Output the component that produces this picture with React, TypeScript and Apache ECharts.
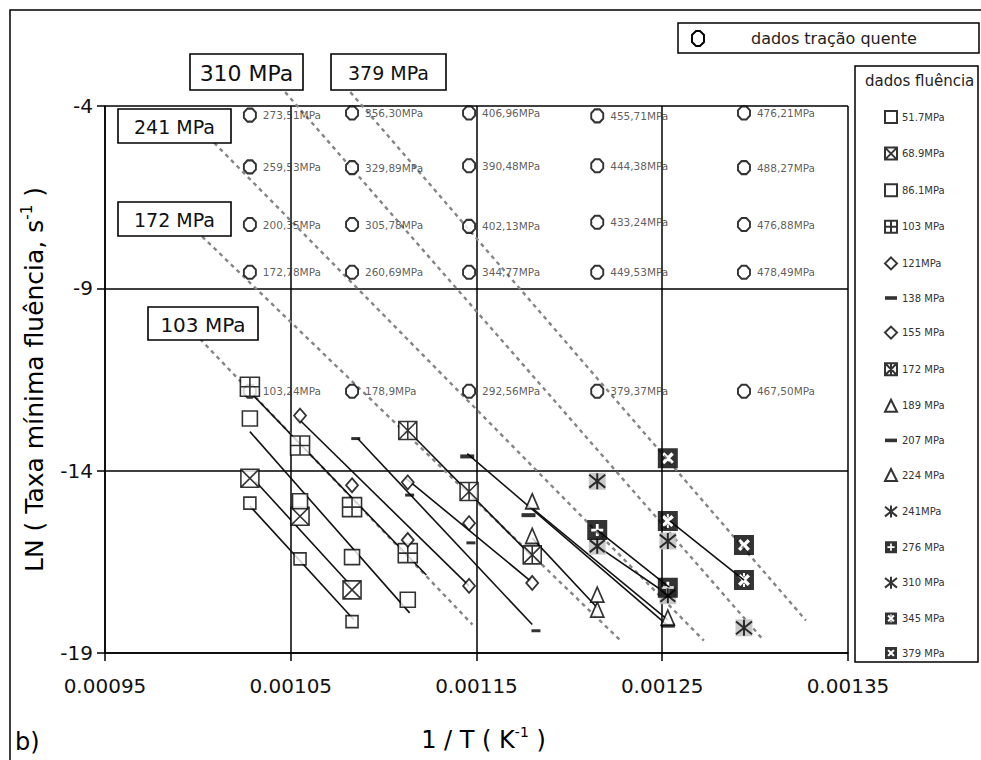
import React, { useEffect, useRef } from "react";
import * as echarts from "echarts";

// ---------- axes ----------
const X_MIN = 0.00095;
const X_MAX = 0.00135;
const X_STEP = 0.0001;
const Y_MIN = -19;
const Y_MAX = -4;
const Y_STEP = 5;
const xTickLabels = ["0.00095", "0.00105", "0.00115", "0.00125", "0.00135"];
const yTickLabels = ["-19", "-14", "-9", "-4"];

// ---------- hot tensile data (dados tração quente) ----------
const tensileRow1 = [[0.001028, -4.25], [0.001083, -4.19], [0.001146, -4.19], [0.001215, -4.27], [0.001294, -4.19]];
const tensileLabels1 = ["273,51MPa", "356,30MPa", "406,96MPa", "455,71MPa", "476,21MPa"];
const tensileRow2 = [[0.001028, -5.67], [0.001083, -5.69], [0.001146, -5.64], [0.001215, -5.64], [0.001294, -5.69]];
const tensileLabels2 = ["259,53MPa", "329,89MPa", "390,48MPa", "444,38MPa", "488,27MPa"];
const tensileRow3 = [[0.001028, -7.25], [0.001083, -7.25], [0.001146, -7.30], [0.001215, -7.19], [0.001294, -7.25]];
const tensileLabels3 = ["200,35MPa", "305,78MPa", "402,13MPa", "433,24MPa", "476,88MPa"];
const tensileRow4 = [[0.001028, -8.56], [0.001083, -8.56], [0.001146, -8.56], [0.001215, -8.56], [0.001294, -8.56]];
const tensileLabels4 = ["172,78MPa", "260,69MPa", "344,77MPa", "449,53MPa", "478,49MPa"];
const tensileRow5 = [[0.001028, -11.82], [0.001083, -11.82], [0.001146, -11.82], [0.001215, -11.82], [0.001294, -11.82]];
const tensileLabels5 = ["103,24MPa", "178,9MPa", "292,56MPa", "379,37MPa", "467,50MPa"];

// ---------- creep data (dados fluência) ----------
const creepNames = ["51.7MPa", "68.9MPa", "86.1MPa", "103 MPa", "121MPa", "138 MPa", "155 MPa", "172 MPa",
  "189 MPa", "207 MPa", "224 MPa", "241MPa", "276 MPa", "310 MPa", "345 MPa", "379 MPa"];
const s517 = [[0.001028, -14.89], [0.001055, -16.42], [0.001083, -18.14]];
const s689 = [[0.001028, -14.21], [0.001055, -15.25], [0.001083, -17.27]];
const s861 = [[0.001028, -12.57], [0.001055, -14.84], [0.001083, -16.37], [0.001113, -17.54]];
const s103 = [[0.001028, -11.70], [0.001055, -13.31], [0.001083, -15.00], [0.001113, -16.26]];
const s121 = [[0.001055, -12.49], [0.001083, -14.40], [0.001113, -15.90], [0.001146, -17.16]];
const s138 = [[0.001085, -13.12], [0.001114, -14.67], [0.001147, -15.98], [0.001182, -18.39]];
const s155 = [[0.001113, -14.32], [0.001146, -15.44], [0.001180, -17.08]];
const s172 = [[0.001113, -12.90], [0.001146, -14.57], [0.001180, -16.31]];
const s189 = [[0.001180, -15.79], [0.001215, -17.81]];
const s207 = [[0.001145, -13.61], [0.001178, -15.22], [0.001253, -18.25]];
const s224 = [[0.001180, -14.84], [0.001215, -17.40], [0.001253, -18.03]];
const s241 = [[0.001215, -16.07], [0.001253, -17.43]];
const s276 = [[0.001215, -15.63], [0.001253, -17.21]];
const s310 = [[0.001215, -14.29], [0.001253, -15.93], [0.001294, -18.31]];
const s345 = [[0.001253, -15.38], [0.001294, -17.00]];
const s379 = [[0.001253, -13.66], [0.001294, -16.04]];

// linear trend lines drawn through the creep points
const t517 = [[0.001028, -14.97], [0.001084, -18.09]];
const t689 = [[0.001031, -14.29], [0.001082, -17.13]];
const t861 = [[0.001028, -12.93], [0.001114, -17.90]];
const t103 = [[0.001028, -11.84], [0.001123, -16.86]];
const t121 = [[0.001054, -12.57], [0.001146, -17.16]];
const t138 = [[0.001086, -13.12], [0.001180, -18.22]];
const t155 = [[0.001112, -14.21], [0.001179, -17.02]];
const t172 = [[0.001113, -12.90], [0.001179, -16.31]];
const t189 = [[0.001180, -15.85], [0.001215, -17.76]];
const t207 = [[0.001145, -13.53], [0.001253, -18.25]];
const t224 = [[0.001180, -15.03], [0.001253, -18.09]];
const t241 = [[0.001215, -16.07], [0.001254, -17.43]];
const t276 = [[0.001215, -15.63], [0.001254, -17.21]];
const t345 = [[0.001254, -15.38], [0.001294, -17.00]];

// iso-stress lines (dashed) from the hot tensile data
const isoNames = ["310 MPa", "379 MPa", "241 MPa", "172 MPa", "103 MPa"];
const iso310 = [[0.0010470, -3.62], [0.0013047, -18.66]];
const iso379 = [[0.0010821, -3.62], [0.0013274, -18.11]];
const iso241 = [[0.0010088, -5.01], [0.0012724, -18.66]];
const iso172 = [[0.0010023, -7.58], [0.0012276, -18.66]];
const iso103 = [[0.0010012, -10.39], [0.0011478, -18.22]];

// ---------- styles ----------
const FONT = "DejaVu Sans, Liberation Sans, Arial, sans-serif";
const P_SQ = "path://M0,0H10V10H0Z";
const P_SQX = "path://M0,0H10V10H0Z M0,0L10,10 M10,0L0,10";
const P_SQPLUS = "path://M0,0H10V10H0Z M5,0V10 M0,5H10";
const P_SQXV = "path://M0,0H10V10H0Z M0,0L10,10 M10,0L0,10 M5,0V10";
const P_OCT = "path://M3,0H7L10,3V7L7,10H3L0,7V3Z";
const P_DASH = "path://M0,0H10V3H0Z";
const P_AST = "path://M0,1L10,9 M10,1L0,9 M5,0V10";
const P_BPLUS = "path://M0,0H10V10H0Z M4.3,2V4.3H2V5.7H4.3V8H5.7V5.7H8V4.3H5.7V2Z";
const P_BX = "path://M0,0H10V10H0Z M3.2,2L2,3.2L3.8,5L2,6.8L3.2,8L5,6.2L6.8,8L8,6.8L6.2,5L8,3.2L6.8,2L5,3.8Z";
const P_BAST = P_BX + " M4.5,1.5V3.2H5.5V1.5Z M4.5,6.8V8.5H5.5V6.8Z";

type Sty = { symbol: string; size: number | number[]; fill: string; bw: number; bg?: boolean };
const creepStyles: Sty[] = [
  { symbol: P_SQ, size: 12, fill: "#fff", bw: 1.6 },
  { symbol: P_SQX, size: 18, fill: "#fff", bw: 1.6 },
  { symbol: P_SQ, size: 15, fill: "#fff", bw: 1.6 },
  { symbol: P_SQPLUS, size: 19, fill: "#fff", bw: 1.6 },
  { symbol: "diamond", size: [12, 14], fill: "#fff", bw: 1.8 },
  { symbol: P_DASH, size: [9, 3], fill: "#000", bw: 0 },
  { symbol: "diamond", size: [12, 14], fill: "#fff", bw: 1.8 },
  { symbol: P_SQXV, size: 18, fill: "#fff", bw: 1.6 },
  { symbol: "triangle", size: [13, 15], fill: "#fff", bw: 1.8 },
  { symbol: P_DASH, size: [14, 4], fill: "#000", bw: 0 },
  { symbol: "triangle", size: [13, 15], fill: "#fff", bw: 1.8 },
  { symbol: P_AST, size: 15, fill: "#000", bw: 2, bg: true },
  { symbol: P_BPLUS, size: 20, fill: "#000", bw: 0 },
  { symbol: P_AST, size: 16, fill: "#000", bw: 2, bg: true },
  { symbol: P_BAST, size: 20, fill: "#000", bw: 0 },
  { symbol: P_BX, size: 20, fill: "#000", bw: 0 },
];
const creepData = [s517, s689, s861, s103, s121, s138, s155, s172, s189, s207, s224, s241, s276, s310, s345, s379];
const trendData = [t517, t689, t861, t103, t121, t138, t155, t172, t189, t207, t224, t241, t276, t345];
const isoData = [iso310, iso379, iso241, iso172, iso103];
const tensileRows = [tensileRow1, tensileRow2, tensileRow3, tensileRow4, tensileRow5];
const tensileLabelRows = [tensileLabels1, tensileLabels2, tensileLabels3, tensileLabels4, tensileLabels5];

const boxLayout = [
  { x: 190, y: 54, w: 113, h: 36, fs: 22 },
  { x: 331, y: 54, w: 115, h: 36, fs: 19 },
  { x: 118, y: 109, w: 113, h: 34, fs: 19 },
  { x: 118, y: 202, w: 113, h: 34, fs: 19 },
  { x: 148, y: 307, w: 110, h: 33, fs: 20 },
];

function buildOption() {
  const series: any[] = [];

  isoData.forEach((d, i) => {
    series.push({
      type: "line", name: "iso " + isoNames[i], data: d, showSymbol: false, symbol: "none", silent: true,
      clip: false, z: 2,
      lineStyle: { color: "#858585", width: 2.4, type: [4, 4] },
    });
  });

  trendData.forEach((d, i) => {
    series.push({
      type: "line", name: "trend" + i, data: d, showSymbol: false, symbol: "none", silent: true, z: 2,
      lineStyle: { color: "#111", width: 1.6 },
    });
  });

  const tensileData: any[] = [];
  tensileRows.forEach((row, r) => row.forEach((p, c) => tensileData.push({ name: tensileLabelRows[r][c], value: p })));
  series.push({
    type: "scatter", name: "dados tração quente", data: tensileData, symbol: P_OCT, symbolSize: [12, 13], z: 3,
    itemStyle: { color: "#fff", borderColor: "#000", borderWidth: 2 },
    label: { show: true, position: "right", distance: 6, formatter: "{b}", fontSize: 10.5, fontFamily: FONT, color: "#333" },
  });

  creepData.forEach((d, i) => {
    const st = creepStyles[i];
    if (st.bg) {
      series.push({
        type: "scatter", name: "bg" + i, data: d, symbol: "rect", symbolSize: 17, z: 3, silent: true,
        itemStyle: { color: "#c4c4c4", opacity: 0.9 },
      });
    }
    series.push({
      type: "scatter", name: creepNames[i], data: d, symbol: st.symbol, symbolSize: st.size, z: 3,
      itemStyle: { color: st.fill, borderColor: "#000", borderWidth: st.bw },
    });
  });

  const graphic: any[] = [
    { type: "rect", z: 0, shape: { x: 10, y: 10, width: 1000, height: 800 }, style: { fill: "none", stroke: "#000", lineWidth: 1.5 } },
    { type: "text", z: 100, style: { text: "b)", x: 15, y: 742, fontSize: 24, fontFamily: FONT, fill: "#000", align: "left", verticalAlign: "middle", textAlign: "left", textVerticalAlign: "middle" } },
    // hot tensile legend box
    { type: "rect", z: 100, shape: { x: 678, y: 23, width: 301, height: 30 }, style: { fill: "#fff", stroke: "#000", lineWidth: 1.5 } },
    { type: "polygon", z: 101, shape: { points: [[696, 31], [700, 31], [704, 35], [704, 42], [700, 46], [696, 46], [692, 42], [692, 35]] }, style: { fill: "#fff", stroke: "#000", lineWidth: 2 } },
    { type: "text", z: 101, style: { text: "dados tração quente", x: 751, y: 38, fontSize: 16, fontFamily: FONT, fill: "#222", align: "left", verticalAlign: "middle", textAlign: "left", textVerticalAlign: "middle" } },
    // creep legend box
    { type: "rect", z: 1, shape: { x: 855, y: 66, width: 123, height: 596 }, style: { fill: "#fff", stroke: "#000", lineWidth: 1.5 } },
    { type: "text", z: 101, style: { text: "dados fluência", x: 865, y: 81, fontSize: 15, fontFamily: FONT, fill: "#222", align: "left", verticalAlign: "middle", textAlign: "left", textVerticalAlign: "middle" } },
  ];
  isoNames.forEach((t, i) => {
    const b = boxLayout[i];
    graphic.push({ type: "rect", z: 100, shape: { x: b.x, y: b.y, width: b.w, height: b.h }, style: { fill: "#fff", stroke: "#000", lineWidth: 1.6 } });
    graphic.push({ type: "text", z: 101, style: { text: t, x: b.x + b.w / 2, y: b.y + b.h / 2 + 1, fontSize: b.fs, fontFamily: FONT, fill: "#111", align: "center", verticalAlign: "middle", textAlign: "center", textVerticalAlign: "middle" } });
  });

  return {
    animation: false,
    backgroundColor: "#fff",
    textStyle: { fontFamily: FONT },
    grid: { left: 105, top: 106, width: 743, height: 549, containLabel: false },
    legend: {
      data: creepNames, orient: "vertical", left: 884, top: 110, itemWidth: 12, itemHeight: 12, itemGap: 22.6,
      selectedMode: false, padding: 0, z: 5,
      textStyle: { fontFamily: FONT, fontSize: 10, color: "#333" },
    },
    xAxis: {
      type: "value", min: X_MIN, max: X_MAX, interval: X_STEP,
      name: "1 / T ( K{sup|-1} )", nameLocation: "middle", nameGap: 72,
      nameTextStyle: { fontSize: 24, fontFamily: FONT, color: "#000", lineHeight: 30, padding: [0, 0, 0, 14], rich: { sup: { fontSize: 14, lineHeight: 14, verticalAlign: "top" } } },
      axisLine: { show: true, onZero: false, lineStyle: { color: "#000", width: 1.5 } },
      axisTick: { show: true, length: 8, lineStyle: { color: "#000", width: 1.5 } },
      splitLine: { show: true, lineStyle: { color: "#000", width: 1.5 } },
      axisLabel: {
        show: true, margin: 23, fontSize: 20, fontFamily: FONT, color: "#111", showMinLabel: true, showMaxLabel: true,
        formatter: (v: number) => xTickLabels[Math.round((v - X_MIN) / X_STEP)] ?? "",
      },
    },
    yAxis: {
      type: "value", min: Y_MIN, max: Y_MAX, interval: Y_STEP,
      name: "LN ( Taxa mínima fluência, s{sup|-1} )", nameLocation: "middle", nameGap: 40, nameRotate: 90,
      nameTextStyle: { fontSize: 25, fontFamily: FONT, color: "#000", lineHeight: 30, rich: { sup: { fontSize: 15, lineHeight: 15, verticalAlign: "top" } } },
      axisLine: { show: true, onZero: false, lineStyle: { color: "#000", width: 1.5 } },
      axisTick: { show: true, length: 8, lineStyle: { color: "#000", width: 1.5 } },
      splitLine: { show: true, lineStyle: { color: "#000", width: 1.5 } },
      axisLabel: {
        show: true, margin: 12, fontSize: 20, fontFamily: FONT, color: "#111", showMinLabel: true, showMaxLabel: true,
        formatter: (v: number) => yTickLabels[Math.round((v - Y_MIN) / Y_STEP)] ?? "",
      },
    },
    graphic,
    series,
  };
}

export default function App() {
  const ref = useRef<HTMLDivElement>(null);
  useEffect(() => {
    if (!ref.current) return;
    const chart = echarts.init(ref.current, null, { renderer: "svg" });
    chart.setOption(buildOption() as any);
    return () => chart.dispose();
  }, []);
  return (
    <div
      ref={ref}
      style={{ position: "fixed", left: 0, top: 0, width: 981, height: 760, background: "#fff" }}
    />
  );
}
